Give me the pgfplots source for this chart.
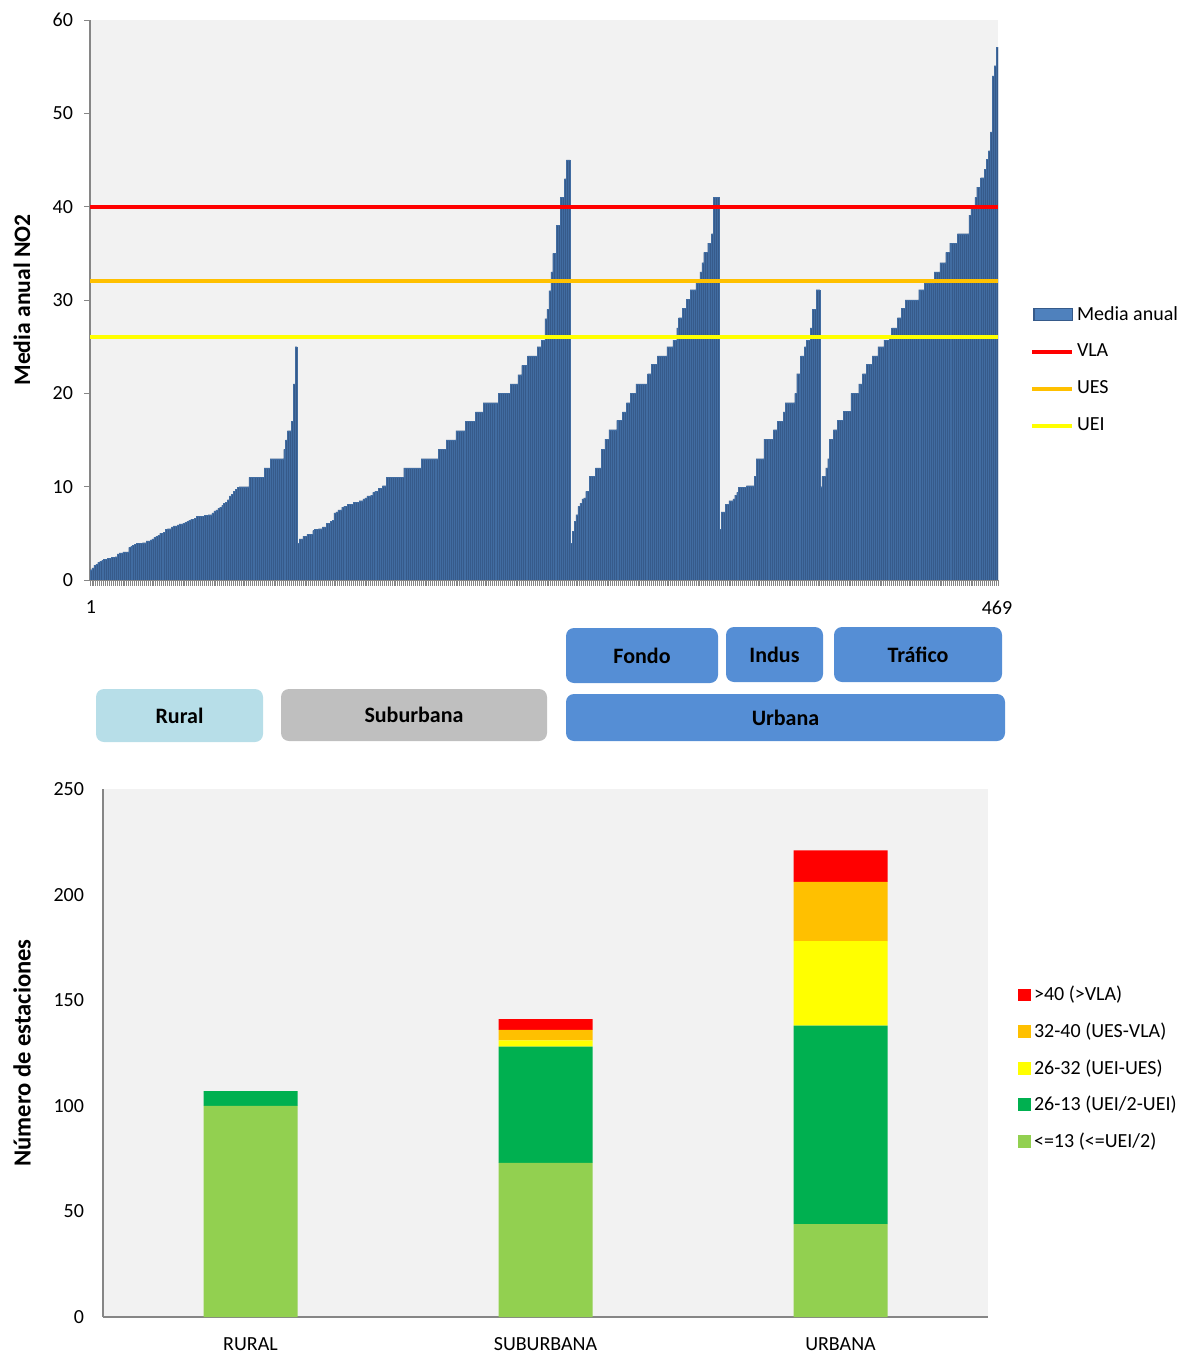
\documentclass[border=0pt]{standalone}
\usepackage{pgfplots}
\pgfplotsset{compat=1.18}
\usepackage{pgfplotstable}
\usepackage{fontspec}
\setmainfont{Carlito}
\definecolor{barfill}{HTML}{365A8A}
\definecolor{baredge}{HTML}{4F81BD}
\definecolor{axgray}{HTML}{868686}
\definecolor{bg}{HTML}{F2F2F2}
\definecolor{ues}{HTML}{FFC000}
\definecolor{uei}{HTML}{FFFF00}
\definecolor{vla}{HTML}{FF0000}
\definecolor{ruralc}{HTML}{B7DEE8}
\definecolor{suburbc}{HTML}{BFBFBF}
\definecolor{urbc}{HTML}{558ED5}
\definecolor{cA}{HTML}{92D050}
\definecolor{cB}{HTML}{00B050}
\definecolor{cC}{HTML}{FFFF00}
\definecolor{cD}{HTML}{FFC000}
\definecolor{cE}{HTML}{FF0000}

\pgfplotstableread[row sep=\\]{v\\
1.1\\1.3\\1.6\\1.7\\1.9\\2.0\\2.1\\2.2\\2.2\\2.3\\
2.3\\2.4\\2.4\\2.5\\2.8\\2.9\\2.9\\3.0\\3.0\\3.0\\
3.5\\3.6\\3.7\\3.8\\3.9\\3.9\\3.9\\4.0\\4.0\\4.2\\
4.2\\4.3\\4.4\\4.6\\4.7\\4.8\\5.0\\5.0\\5.1\\5.4\\
5.5\\5.5\\5.7\\5.8\\5.8\\5.9\\6.0\\6.0\\6.1\\6.2\\
6.3\\6.4\\6.5\\6.5\\6.6\\6.8\\6.8\\6.8\\6.8\\6.9\\
6.9\\7.0\\7.0\\7.2\\7.4\\7.5\\7.7\\7.8\\8.0\\8.2\\
8.3\\8.6\\9.0\\9.2\\9.5\\9.7\\9.9\\10\\10\\10\\
10\\10\\11\\11\\11\\11\\11\\11\\11\\11\\
12\\12\\12\\13\\13\\13\\13\\13\\13\\13\\
14\\15\\16\\16\\17\\21\\25\\}\rural

\pgfplotstableread[row sep=\\]{v\\
3.9\\4.4\\4.4\\4.7\\4.7\\4.9\\4.9\\4.9\\5.3\\5.4\\
5.4\\5.5\\5.5\\5.7\\5.7\\6.1\\6.1\\6.3\\6.4\\7.2\\
7.3\\7.5\\7.5\\7.8\\7.9\\7.9\\8.1\\8.1\\8.1\\8.3\\
8.3\\8.3\\8.5\\8.5\\8.7\\8.8\\9.0\\9.0\\9.1\\9.4\\
9.5\\9.5\\9.8\\9.8\\10.1\\10.1\\
11\\11\\11\\11\\11\\11\\11\\11\\11\\
12\\12\\12\\12\\12\\12\\12\\12\\12\\
13\\13\\13\\13\\13\\13\\13\\13\\13\\
14\\14\\14\\14\\15\\15\\15\\15\\15\\
16\\16\\16\\16\\16\\17\\17\\17\\17\\17\\
18\\18\\18\\18\\19\\19\\19\\19\\19\\19\\19\\19\\
20\\20\\20\\20\\20\\20\\21\\21\\21\\21\\
22\\22\\23\\23\\23\\24\\24\\24\\24\\24\\
25\\25\\25.7\\25.7\\28\\29\\31\\
33\\35\\35\\38\\38\\41\\41\\43\\45\\45\\}\suburb

\pgfplotstableread[row sep=\\]{v\\
3.9\\5.2\\6.3\\7.0\\7.9\\8.2\\8.7\\8.8\\9.5\\9.5\\
11.1\\11.1\\11.1\\12\\12\\12\\14\\14\\15.1\\15.1\\
16.1\\16.1\\16.1\\16.1\\17.1\\17.1\\17.1\\18\\18\\19\\
19\\20\\20\\20\\21\\21\\21\\21\\21\\21\\
22.1\\22.1\\23.1\\23.1\\23.1\\24\\24\\24\\24\\24\\
25\\25\\25\\25.7\\25.7\\27\\28.1\\28.1\\29.1\\29.1\\
30.1\\30.1\\31.1\\31.1\\31.1\\31.8\\31.8\\33\\34\\35.1\\
35.1\\36.1\\36.1\\37.1\\41\\41\\41\\}\fondo

\pgfplotstableread[row sep=\\]{v\\
5.4\\7.3\\7.3\\8.1\\8.1\\8.5\\8.5\\8.7\\9.1\\9.4\\
9.9\\9.9\\9.9\\9.9\\10.1\\10.1\\10.1\\10.1\\11.1\\13\\
13\\13\\13\\15.1\\15.1\\15.1\\15.1\\15.1\\16.1\\16.1\\
17\\17\\17\\18\\19\\19\\19\\19\\19\\20\\
22.1\\22.1\\24\\24\\25\\25.7\\25.7\\27\\29\\29\\
31.1\\31.1\\}\indus

\pgfplotstableread[row sep=\\]{v\\
10\\11.1\\11.1\\12\\13\\15.1\\15.1\\16.1\\16.1\\17.1\\
17.1\\17.1\\18.1\\18.1\\18.1\\18.1\\20\\20\\20\\20\\
21\\21\\22.1\\22.1\\23.1\\23.1\\23.1\\24\\24\\24\\
25\\25\\25\\25.7\\25.7\\25.7\\26.2\\27\\27\\27\\
28.1\\28.1\\29.1\\29.1\\30\\30\\30\\30\\30\\30\\
30\\31.1\\31.1\\31.1\\31.8\\31.8\\31.8\\31.8\\31.8\\33\\
33\\33\\34\\34\\34\\35.1\\35.1\\36.1\\36.1\\36.1\\
36.1\\37.1\\37.1\\37.1\\37.1\\37.1\\37.1\\39.1\\40\\40\\
41\\42.1\\42.1\\43.1\\43.1\\44\\45.1\\46\\48\\54\\
55.1\\57.1\\}\trafico

\pgfplotsset{/pgf/number format/assume math mode=true}

\newcommand{\catbox}[6]{%
  \fill[#5, rounded corners=4pt] (#1,#2) rectangle (#3,#4);
  \node[font=\bfseries\fontsize{11}{13}\selectfont, inner sep=0pt] at ({(#1+#3)/2},{(#2+#4)/2}) {#6};}

\begin{document}
\begin{tikzpicture}
\useasboundingbox (0,0) rectangle (589.5pt,-676.5pt);

\begin{axis}[
  at={(45pt,-10pt)}, anchor=north west,
  scale only axis, width=454pt, height=280pt,
  xmin=0.5, xmax=469.5, ymin=0, ymax=60,
  axis lines*=left,
  axis line style={draw=axgray, line width=0.6pt},
  axis background/.style={fill=bg},
  ytick={0,10,...,60},
  xtick={1,469},
  minor xtick={0.5,1.5,...,469.5},
  tick align=outside,
  major tick length=3pt,
  minor tick length=3pt,
  every tick/.style={axgray, line width=0.4pt},
  major x tick style={draw=none},
  ticklabel style={font=\fontsize{10}{12}\selectfont},
  yticklabel style={xshift=-2pt},
  xticklabel style={yshift=-4pt},
  ylabel={Media anual NO2},
  ylabel style={at={(axis description cs:-0.0749,0.5)}, anchor=center, font=\bfseries\fontsize{11.8}{13}\selectfont},
  legend style={at={(rel axis cs:1.035,0.495)}, anchor=north west, draw=none, fill=none,
    font=\fontsize{10}{12}\selectfont, row sep=7.5pt, inner sep=0pt,
    nodes={inner sep=1.5pt}},
  legend cell align=left,
  legend image code/.code={\draw[#1] (0pt,0pt) -- (20pt,0pt);},
]
\addplot[ybar, bar shift=0pt, bar width=1, fill=barfill, draw=baredge!45!barfill, line width=0.1pt,
  legend image code/.code={\draw[fill=baredge, draw=barfill, line width=0.6pt] (1pt,-3pt) rectangle (20pt,3pt);}]
  table[x expr=\coordindex+1, y=v] {\rural};
\addlegendentry{Media anual}
\addplot[ybar, bar shift=0pt, bar width=1, fill=barfill, draw=baredge!45!barfill, line width=0.1pt, forget plot]
  table[x expr=\coordindex+108, y=v] {\suburb};
\addplot[ybar, bar shift=0pt, bar width=1, fill=barfill, draw=baredge!45!barfill, line width=0.1pt, forget plot]
  table[x expr=\coordindex+249, y=v] {\fondo};
\addplot[ybar, bar shift=0pt, bar width=1, fill=barfill, draw=baredge!45!barfill, line width=0.1pt, forget plot]
  table[x expr=\coordindex+326, y=v] {\indus};
\addplot[ybar, bar shift=0pt, bar width=1, fill=barfill, draw=baredge!45!barfill, line width=0.1pt, forget plot]
  table[x expr=\coordindex+378, y=v] {\trafico};
\addplot[vla, line width=1.9pt] coordinates {(0.5,40) (469.5,40)};
\addlegendentry{VLA}
\addplot[ues, line width=1.9pt] coordinates {(0.5,32) (469.5,32)};
\addlegendentry{UES}
\addplot[uei, line width=1.9pt] coordinates {(0.5,26) (469.5,26)};
\addlegendentry{UEI}
\end{axis}

\begin{scope}[x=0.5pt, y=-0.5pt]
\catbox{96}{689}{263}{742}{ruralc}{Rural}
\catbox{281}{689}{547}{741}{suburbc}{Suburbana}
\catbox{566}{694}{1005}{741}{urbc}{Urbana}
\catbox{566}{628}{718}{683}{urbc}{Fondo}
\catbox{726}{627}{823}{682}{urbc}{Indus}
\catbox{834}{627}{1002}{682}{urbc}{Tráfico}
\end{scope}

\begin{axis}[
  at={(51.5pt,-394.5pt)}, anchor=north west,
  scale only axis, width=442.5pt, height=264pt,
  ybar stacked, bar width=47pt,
  xmin=-0.5, xmax=2.5, ymin=0, ymax=250,
  xtick={0,1,2}, xticklabels={RURAL,SUBURBANA,URBANA},
  ytick={0,50,...,250},
  axis lines*=left,
  axis line style={draw=axgray, line width=0.6pt},
  axis background/.style={fill=bg},
  major tick length=0pt,
  ticklabel style={font=\fontsize{10}{12}\selectfont},
  yticklabel style={xshift=-6pt},
  xticklabel style={yshift=-6pt, text height=7pt, text depth=0pt},
  ylabel={Número de estaciones},
  ylabel style={at={(axis description cs:-0.0915,0.5)}, anchor=center, font=\bfseries\fontsize{12.3}{14}\selectfont},
  legend style={at={(rel axis cs:1.0335,0.633)}, anchor=north west, draw=none, fill=none,
    font=\fontsize{10}{12}\selectfont, row sep=6.5pt, inner sep=0pt,
    nodes={inner sep=1.5pt}},
  legend cell align=left,
  reverse legend,
]
\addplot[fill=cA, draw=none, legend image code/.code={\fill[cA] (0pt,-3.2pt) rectangle (6.5pt,3.2pt);}]
  coordinates {(0,100) (1,73) (2,44)};
\addlegendentry{<=13 (<=UEI/2)}
\addplot[fill=cB, draw=none, legend image code/.code={\fill[cB] (0pt,-3.2pt) rectangle (6.5pt,3.2pt);}]
  coordinates {(0,7) (1,55) (2,94)};
\addlegendentry{26-13 (UEI/2-UEI)}
\addplot[fill=cC, draw=none, legend image code/.code={\fill[cC] (0pt,-3.2pt) rectangle (6.5pt,3.2pt);}]
  coordinates {(0,0) (1,3) (2,40)};
\addlegendentry{26-32 (UEI-UES)}
\addplot[fill=cD, draw=none, legend image code/.code={\fill[cD] (0pt,-3.2pt) rectangle (6.5pt,3.2pt);}]
  coordinates {(0,0) (1,5) (2,28)};
\addlegendentry{32-40 (UES-VLA)}
\addplot[fill=cE, draw=none, legend image code/.code={\fill[cE] (0pt,-3.2pt) rectangle (6.5pt,3.2pt);}]
  coordinates {(0,0) (1,5) (2,15)};
\addlegendentry{>40 (>VLA)}
\end{axis}
\end{tikzpicture}
\end{document}
